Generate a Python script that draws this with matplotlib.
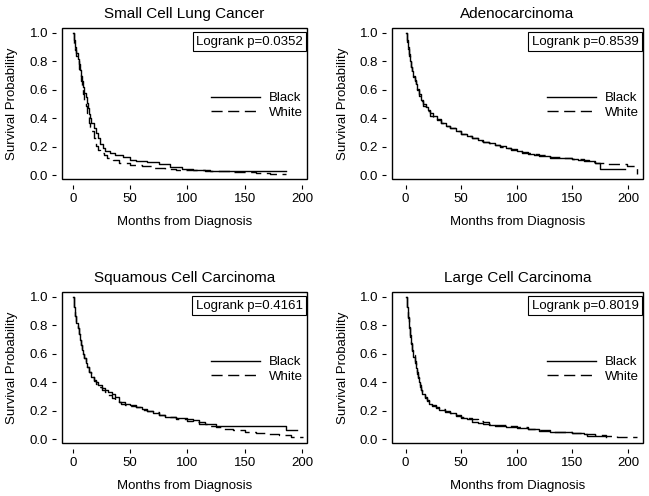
import matplotlib
matplotlib.use("Agg")
import matplotlib.pyplot as plt
from matplotlib.patches import Rectangle

plt.rcParams["font.family"] = ["Liberation Sans", "DejaVu Sans"]

# Kaplan-Meier step points (months, survival)
titles = ["Small Cell Lung Cancer", "Adenocarcinoma",
          "Squamous Cell Carcinoma", "Large Cell Carcinoma"]
pvalues = ["0.0352", "0.8539", "0.4161", "0.8019"]
groups = ["Black", "White"]

sclc_black_t = [0, 1, 2, 3, 4, 5, 6, 7, 8, 9, 10, 11, 12, 13, 14, 15, 16, 18, 20, 22, 24, 26,
                28, 32, 37, 44, 50, 55, 65, 75, 85, 95, 105, 115, 186]
sclc_black_s = [1.0, 0.95, 0.9, 0.86, 0.82, 0.78, 0.74, 0.7, 0.66, 0.62, 0.58, 0.55, 0.51,
                0.47, 0.43, 0.4, 0.37, 0.33, 0.3, 0.26, 0.22, 0.19, 0.17, 0.16, 0.145, 0.13,
                0.11, 0.1, 0.095, 0.08, 0.06, 0.045, 0.04, 0.03, 0.03]
sclc_white_t = [0, 1, 2, 3, 4, 5, 6, 7, 8, 9, 10, 11, 12, 13, 14, 15, 16, 18, 20, 22, 24, 27,
                30, 35, 40, 45, 50, 60, 70, 80, 90, 110, 120, 140, 160, 172, 186]
sclc_white_s = [1.0, 0.93, 0.88, 0.84, 0.8, 0.75, 0.71, 0.66, 0.62, 0.57, 0.53, 0.49, 0.44,
                0.41, 0.37, 0.34, 0.31, 0.26, 0.21, 0.18, 0.16, 0.14, 0.12, 0.105, 0.09,
                0.085, 0.075, 0.065, 0.055, 0.045, 0.04, 0.035, 0.03, 0.025, 0.02, 0.013,
                0.013]

adeno_black_t = [0, 1, 2, 3, 4, 5, 6, 7, 8, 9, 10, 12, 14, 16, 18, 20, 22, 25, 28, 32, 36, 40,
                 45, 50, 55, 60, 65, 70, 75, 80, 85, 90, 95, 100, 105, 110, 115, 120, 130,
                 140, 150, 155, 160, 165, 170, 175, 197]
adeno_black_s = [1.0, 0.95, 0.9, 0.85, 0.8, 0.76, 0.73, 0.7, 0.67, 0.64, 0.61, 0.57, 0.53,
                 0.5, 0.48, 0.46, 0.44, 0.415, 0.395, 0.37, 0.35, 0.33, 0.31, 0.29, 0.275,
                 0.265, 0.25, 0.235, 0.225, 0.215, 0.205, 0.195, 0.185, 0.17, 0.16, 0.15,
                 0.145, 0.135, 0.125, 0.12, 0.115, 0.11, 0.105, 0.1, 0.09, 0.045, 0.045]
adeno_white_t = [0, 1, 2, 3, 4, 5, 6, 7, 8, 9, 10, 12, 14, 16, 18, 20, 22, 25, 28, 32, 36, 40,
                 45, 50, 55, 60, 65, 70, 75, 80, 85, 90, 95, 100, 105, 110, 115, 120, 130,
                 140, 150, 160, 165, 170, 180, 199, 208]
adeno_white_s = [1.0, 0.94, 0.89, 0.84, 0.8, 0.76, 0.72, 0.69, 0.66, 0.63, 0.6, 0.56, 0.52,
                 0.49, 0.47, 0.45, 0.42, 0.4, 0.39, 0.365, 0.345, 0.33, 0.31, 0.29, 0.275,
                 0.26, 0.245, 0.235, 0.23, 0.215, 0.2, 0.19, 0.18, 0.175, 0.165, 0.16, 0.15,
                 0.14, 0.13, 0.12, 0.115, 0.1, 0.095, 0.085, 0.08, 0.065, 0.01]

squam_black_t = [0, 1, 2, 3, 4, 5, 6, 7, 8, 9, 10, 11, 12, 14, 16, 18, 20, 22, 25, 28, 31,
                 34, 37, 40, 42, 50, 55, 60, 65, 70, 75, 80, 85, 90, 100, 105, 110, 115, 120,
                 125, 186, 196]
squam_black_s = [1.0, 0.93, 0.87, 0.82, 0.78, 0.74, 0.7, 0.66, 0.63, 0.6, 0.57, 0.54, 0.51,
                 0.47, 0.44, 0.42, 0.4, 0.38, 0.36, 0.345, 0.335, 0.32, 0.3, 0.26, 0.25,
                 0.245, 0.23, 0.215, 0.2, 0.185, 0.175, 0.16, 0.155, 0.15, 0.145, 0.135,
                 0.12, 0.11, 0.105, 0.095, 0.065, 0.065]
squam_white_t = [0, 1, 2, 3, 4, 5, 6, 7, 8, 9, 10, 11, 12, 14, 16, 18, 20, 22, 25, 28, 31,
                 34, 37, 40, 45, 50, 55, 60, 65, 70, 75, 80, 85, 90, 95, 100, 105, 110, 115,
                 120, 125, 130, 140, 150, 160, 170, 180, 190, 201]
squam_white_s = [1.0, 0.93, 0.87, 0.82, 0.78, 0.74, 0.7, 0.66, 0.63, 0.6, 0.57, 0.54, 0.51,
                 0.47, 0.44, 0.41, 0.39, 0.37, 0.35, 0.33, 0.31, 0.29, 0.275, 0.26, 0.245,
                 0.235, 0.225, 0.21, 0.2, 0.19, 0.175, 0.165, 0.155, 0.145, 0.14, 0.13, 0.12,
                 0.11, 0.105, 0.095, 0.085, 0.075, 0.065, 0.055, 0.045, 0.035, 0.03, 0.02,
                 0.015]

large_black_t = [0, 1, 2, 3, 4, 5, 6, 7, 8, 9, 10, 11, 12, 13, 14, 15, 17, 19, 21, 24, 27, 30,
                 35, 40, 45, 50, 55, 60, 65, 70, 75, 80, 90, 100, 110, 120, 130, 140, 150,
                 160, 163, 175, 180]
large_black_s = [1.0, 0.93, 0.85, 0.78, 0.72, 0.67, 0.62, 0.58, 0.54, 0.5, 0.46, 0.43, 0.4,
                 0.37, 0.345, 0.32, 0.29, 0.27, 0.25, 0.235, 0.22, 0.205, 0.195, 0.185,
                 0.165, 0.15, 0.14, 0.125, 0.115, 0.105, 0.1, 0.095, 0.09, 0.08, 0.07, 0.06,
                 0.055, 0.05, 0.045, 0.04, 0.025, 0.025, 0.02]
large_white_t = [0, 1, 2, 3, 4, 5, 6, 7, 8, 9, 10, 11, 12, 13, 14, 15, 17, 19, 21, 24, 27, 30,
                 35, 40, 45, 50, 55, 60, 65, 70, 75, 80, 90, 100, 110, 120, 130, 140, 150,
                 160, 170, 180, 190, 208]
large_white_s = [1.0, 0.93, 0.86, 0.79, 0.73, 0.68, 0.63, 0.59, 0.55, 0.51, 0.47, 0.44, 0.41,
                 0.38, 0.35, 0.33, 0.3, 0.28, 0.26, 0.245, 0.23, 0.215, 0.2, 0.185, 0.17,
                 0.155, 0.15, 0.14, 0.13, 0.12, 0.11, 0.1, 0.095, 0.085, 0.075, 0.065, 0.055,
                 0.05, 0.045, 0.035, 0.03, 0.025, 0.015, 0.015]

curves = [
    ((sclc_black_t, sclc_black_s), (sclc_white_t, sclc_white_s)),
    ((adeno_black_t, adeno_black_s), (adeno_white_t, adeno_white_s)),
    ((squam_black_t, squam_black_s), (squam_white_t, squam_white_s)),
    ((large_black_t, large_black_s), (large_white_t, large_white_s)),
]

xticks = [0, 50, 100, 150, 200]
yticks = [0.0, 0.2, 0.4, 0.6, 0.8, 1.0]

W, H = 649, 496
fig = plt.figure(figsize=(W / 100, H / 100), dpi=100)

# axes frames in pixels: (left, top, right, bottom)
boxes = [(62, 28, 307, 179), (392, 28, 643, 179),
         (62, 292, 307, 443), (392, 292, 643, 443)]
xlims = [(-9.6, 204.4), (-12.3, 213.5), (-9.6, 204.4), (-12.3, 213.5)]

for i, (l, t, r, b) in enumerate(boxes):
    ax = fig.add_axes([l / W, 1 - b / H, (r - l) / W, (b - t) / H])
    black, white = curves[i]
    ax.plot(black[0], black[1], color="black", lw=1.0, drawstyle="steps-post",
            label=groups[0])
    ax.plot(white[0], white[1], color="black", lw=1.0, drawstyle="steps-post",
            dashes=(8, 4), label=groups[1])

    ax.set_xlim(*xlims[i])
    ax.set_ylim(-0.025, 1.035)
    ax.set_xticks(xticks)
    ax.set_yticks(yticks)
    ax.set_yticklabels([f"{v:.1f}" for v in yticks])
    ax.tick_params(direction="out", length=3, width=0.8, labelsize=9.5, pad=3,
                   colors="black")

    # SAS-style: ticks sit a few pixels away from the frame
    for side in ["top", "right"]:
        ax.spines[side].set_visible(False)
    for side in ["left", "bottom"]:
        ax.spines[side].set_position(("outward", 4))
        ax.spines[side].set_visible(False)
    ax.add_patch(Rectangle((0, 0), 1, 1, transform=ax.transAxes, fill=False,
                           lw=1.0, ec="black", clip_on=False))

    ax.set_title(titles[i], fontsize=11, pad=7)
    ax.set_xlabel("Months from Diagnosis", fontsize=9.5, labelpad=8)
    ax.set_ylabel("Survival Probability", fontsize=9.5, labelpad=8)

    ax.text(0.982, 0.95, "Logrank p=" + pvalues[i], transform=ax.transAxes,
            ha="right", va="top", fontsize=9.5,
            bbox=dict(boxstyle="square,pad=0.25", fc="white", ec="black", lw=0.8))

    ax.legend(loc="center right", bbox_to_anchor=(0.985, 0.487), frameon=False,
              fontsize=9.5, handlelength=3.7, handletextpad=0.7, labelspacing=0.2,
              borderpad=0, borderaxespad=0)

fig.savefig("out.png", dpi=100)
